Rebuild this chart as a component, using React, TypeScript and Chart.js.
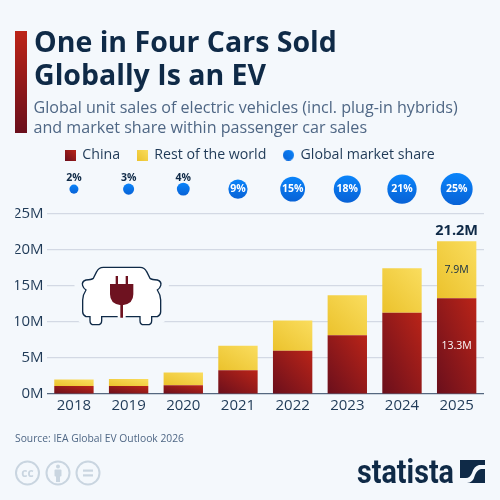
import React, { useEffect, useRef } from "react";
import { Chart, registerables } from "chart.js";

Chart.register(...registerables);

const years = ["2018", "2019", "2020", "2021", "2022", "2023", "2024", "2025"];
const china = [1.1, 1.1, 1.2, 3.3, 6.0, 8.15, 11.3, 13.3];
const restOfWorld = [0.9, 1.0, 1.8, 3.4, 4.2, 5.55, 6.15, 7.9];
const marketShare = [2, 3, 4, 9, 15, 18, 21, 25];
const yTicks = [0, 5, 10, 15, 20, 25];

const BG = "#F4F8FC";
const NAVY = "#0F2A47";
const FONT = '"Open Sans"';
const BUBBLE_ROW = 28.45;
const BAR_W = 39.4;

function diagGradient(c: CanvasRenderingContext2D, l: number, t: number, r: number, b: number, from: string, to: string) {
  const w = Math.max(r - l, 1), h = Math.max(b - t, 1);
  const gx = 1 / (2 * w), gy = -1 / (2 * h);
  const n = gx * gx + gy * gy;
  const g = c.createLinearGradient(l, b, l + gx / n, b + gy / n);
  g.addColorStop(0, from);
  g.addColorStop(1, to);
  return g;
}

function barFill(from: string, to: string, lower: number[], vals: number[]) {
  return (ctx: any) => {
    const ch = ctx.chart;
    if (!ch.chartArea || ctx.dataIndex === undefined) return to;
    const x = ch.scales.x.getPixelForTick(ctx.dataIndex);
    const b = ch.scales.y.getPixelForValue(lower[ctx.dataIndex]);
    const t = ch.scales.y.getPixelForValue(lower[ctx.dataIndex] + vals[ctx.dataIndex]);
    return diagGradient(ch.ctx, x - BAR_W / 2, t, x + BAR_W / 2, b, from, to);
  };
}

function swatch(from: string, to: string, round: boolean) {
  const cv = document.createElement("canvas");
  cv.width = 11;
  cv.height = 11;
  const c = cv.getContext("2d") as CanvasRenderingContext2D;
  c.fillStyle = diagGradient(c, 0, 0, 11, 11, from, to);
  if (round) {
    c.beginPath();
    c.arc(5.5, 5.5, 5.5, 0, Math.PI * 2);
    c.fill();
  } else {
    c.fillRect(0, 0, 11, 11);
  }
  return cv;
}

const labelsPlugin = {
  id: "marks",
  afterDatasetsDraw(chart: any) {
    const c = chart.ctx as CanvasRenderingContext2D;
    const bubbles = chart.getDatasetMeta(2).data;
    c.save();
    c.textAlign = "center";
    c.textBaseline = "middle";
    marketShare.forEach((s, i) => {
      const p = bubbles[i];
      const inside = s >= 9;
      c.font = `700 10.5px ${FONT}`;
      c.fillStyle = inside ? "#FFFFFF" : NAVY;
      c.fillText(`${s}%`, p.x, inside ? p.y : p.y - 11.5);
    });
    const last = years.length - 1;
    const xp = chart.scales.x.getPixelForTick(last);
    const y = chart.scales.y;
    c.font = `400 10.5px ${FONT}`;
    c.fillStyle = "#FFFFFF";
    c.fillText(`${china[last]}M`, xp, y.getPixelForValue(china[last] / 2));
    c.fillStyle = NAVY;
    c.fillText(`${restOfWorld[last]}M`, xp, y.getPixelForValue(china[last] + restOfWorld[last] / 2));
    c.font = `700 14.5px ${FONT}`;
    c.fillText("21.2M", xp, y.getPixelForValue(china[last] + restOfWorld[last]) - 10);
    c.restore();
  },
};

const CAR =
  "M143 185 H95 V197 Q95 209 82 209 H72 Q60 209 60 197 V185 H48 Q38 180 38 170 V135 Q38 120 48 105 Q40 100 38 92 Q34 80 48 75 Q64 74 70 70 L80 50 Q86 37 100 37 H210 Q224 37 230 50 L240 70 Q246 74 262 75 Q276 80 272 92 Q270 100 262 105 Q272 120 272 135 V170 Q272 180 262 185 H245 V197 Q245 209 232 209 H222 Q210 209 210 197 V185 H167";

function CarIcon() {
  return (
    <svg width="100" height="80" viewBox="0 0 300 240" style={{ position: "absolute", left: 70, top: 255 }}>
      <path d={CAR + " Z"} fill={BG} stroke={BG} strokeWidth="48" strokeLinejoin="round" />
      <path d={CAR} fill="#FFFFFF" stroke={NAVY} strokeWidth="4" />
      <path
        d="M120 87 H190 V118 Q190 146 160 150 H159 V188 H151 V150 H150 Q120 146 120 118 Z"
        fill="#6E1220"
      />
      <rect x="137" y="63" width="7" height="25" fill="#6E1220" />
      <rect x="167" y="63" width="7" height="25" fill="#6E1220" />
    </svg>
  );
}

function Logo() {
  return (
    <>
      <div style={{ position: "absolute", left: 357, top: 454.5, fontFamily: "Roboto", fontWeight: 700, fontSize: 33, lineHeight: "33px", color: NAVY, transform: "scaleX(0.87)", transformOrigin: "left top", whiteSpace: "nowrap" }}>
        statista
      </div>
      <svg width="26" height="24" viewBox="0 0 26 24" style={{ position: "absolute", left: 460, top: 460 }}>
        <rect x="0" y="0" width="25" height="23" fill={NAVY} />
        <path d="M0 23 V18 H6 Q10 18 12 13 Q14 6 19 5 H25 V9 H21 Q17 10 15 15 Q13 23 7 23 Z" fill={BG} />
      </svg>
      <svg width="92" height="28" viewBox="0 0 92 28" style={{ position: "absolute", left: 14, top: 459 }}>
        <g fill="none" stroke="#C9D5E0" strokeWidth="2">
          <circle cx="13.5" cy="14" r="11.5" />
          <circle cx="44" cy="14" r="11.5" />
          <circle cx="74" cy="14" r="11.5" />
        </g>
        <text x="13.5" y="18" textAnchor="middle" fontFamily="Open Sans" fontWeight="700" fontSize="12" fill="#C9D5E0">cc</text>
        <circle cx="44" cy="7.5" r="2" fill="#C9D5E0" />
        <rect x="40.5" y="10.5" width="7" height="7" rx="1" fill="#C9D5E0" />
        <rect x="42" y="16" width="4" height="7" fill="#C9D5E0" />
        <rect x="69" y="10.5" width="10" height="2.2" fill="#C9D5E0" />
        <rect x="69" y="15.3" width="10" height="2.2" fill="#C9D5E0" />
      </svg>
    </>
  );
}

export default function App() {
  const ref = useRef<HTMLCanvasElement>(null);
  useEffect(() => {
    document.body.style.margin = "0";
    document.body.style.background = BG;
    const zeros = china.map(() => 0);
    const chart = new Chart(ref.current as HTMLCanvasElement, {
      data: {
        labels: years,
        datasets: [
          {
            type: "bar",
            label: "China",
            data: china,
            stack: "s",
            barPercentage: 1,
            categoryPercentage: 0.72,
            backgroundColor: barFill("#6A0F1C", "#BA2418", zeros, china),
            order: 2,
          },
          {
            type: "bar",
            label: "Rest of the world",
            data: restOfWorld,
            stack: "s",
            barPercentage: 1,
            categoryPercentage: 0.72,
            backgroundColor: barFill("#EBC22C", "#FADD5E", china, restOfWorld),
            order: 2,
          },
          {
            type: "bubble",
            label: "Global market share",
            data: marketShare.map((s, i) => ({ x: years[i], y: BUBBLE_ROW, r: 3.2 * Math.sqrt(s) })),
            clip: false,
            borderWidth: 0,
            hoverBorderWidth: 0,
            backgroundColor: (ctx: any) => {
              const ch = ctx.chart;
              if (!ch.chartArea || ctx.dataIndex === undefined) return "#0A78F0";
              const yp = ch.scales.y.getPixelForValue(BUBBLE_ROW);
              const r = 3.2 * Math.sqrt(marketShare[ctx.dataIndex]);
              const g = ch.ctx.createLinearGradient(0, yp - r, 0, yp + r);
              g.addColorStop(0, "#0A84FA");
              g.addColorStop(1, "#0862D6");
              return g;
            },
            order: 1,
          },
        ],
      } as any,
      options: {
        animation: false,
        responsive: false,
        devicePixelRatio: 1,
        layout: { padding: { top: 131, right: 15.3, bottom: 0, left: 15.3 } },
        plugins: {
          tooltip: { enabled: false },
          title: { display: false },
          legend: {
            display: true,
            position: "top",
            align: "center",
            labels: {
              usePointStyle: true,
              boxWidth: 10,
              boxHeight: 10,
              padding: 17,
              color: "#1F3A57",
              font: { family: FONT, size: 14.2 },
              generateLabels: () => [
                { text: "China", fillStyle: "#8A1A1C", strokeStyle: "#8A1A1C", lineWidth: 0, pointStyle: swatch("#6A0F1C", "#BA2418", false), fontColor: "#1F3A57", datasetIndex: 0 },
                { text: "Rest of the world", fillStyle: "#F5D23F", strokeStyle: "#F5D23F", lineWidth: 0, pointStyle: swatch("#EBC22C", "#FADD5E", false), fontColor: "#1F3A57", datasetIndex: 1 },
                { text: "Global market share", fillStyle: "#0A78F0", strokeStyle: "#0A78F0", lineWidth: 0, pointStyle: swatch("#0862D6", "#0A84FA", true), fontColor: "#1F3A57", datasetIndex: 2 },
              ],
            },
          },
        },
        scales: {
          x: {
            type: "category",
            stacked: true,
            offset: true,
            grid: { display: false, drawTicks: false },
            border: { display: false },
            ticks: { color: "#1F3A57", font: { family: FONT, size: 15 }, padding: 3, maxRotation: 0, autoSkip: false },
            afterFit: (s: any) => { s.height = 106; },
          },
          y: {
            type: "linear",
            stacked: true,
            min: 0,
            max: 30.8,
            afterBuildTicks: (s: any) => { s.ticks = yTicks.map((v) => ({ value: v })); },
            grid: {
              drawTicks: false,
              lineWidth: 1.2,
              color: (ctx: any) => (ctx.tick.value === 0 ? "#55677F" : "#D3D9E4"),
            },
            border: { display: false },
            ticks: {
              color: "#1F3A57",
              font: { family: FONT, size: 15 },
              padding: 3,
              callback: (v: any) => `${v}M`,
            },
            afterFit: (s: any) => { s.width = 31.3; },
          },
        },
      } as any,
      plugins: [labelsPlugin],
    });
    return () => chart.destroy();
  }, []);

  return (
    <div style={{ position: "absolute", left: 0, top: 0, width: 500, height: 500, background: BG, overflow: "hidden" }}>
      <canvas ref={ref} width={500} height={500} style={{ position: "absolute", left: 0, top: 0, width: 500, height: 500 }} />
      <CarIcon />
      <div style={{ position: "absolute", left: 15, top: 30.5, width: 11.5, height: 102, background: "linear-gradient(#BC2418,#6A0F1C)" }} />
      <div style={{ position: "absolute", left: 34, top: 25, fontFamily: FONT, fontWeight: 700, fontSize: 28.5, lineHeight: "32.5px", color: NAVY, whiteSpace: "nowrap" }}>
        One in Four Cars Sold<br />Globally Is an EV
      </div>
      <div style={{ position: "absolute", left: 33.5, top: 96.5, fontFamily: FONT, fontWeight: 400, fontSize: 16.1, lineHeight: "20px", color: "#4F6785", whiteSpace: "nowrap" }}>
        Global unit sales of electric vehicles (incl. plug-in hybrids)<br />and market share within passenger car sales
      </div>
      <div style={{ position: "absolute", left: 15, top: 431, fontFamily: FONT, fontSize: 10.3, lineHeight: "14px", color: "#4F6785", whiteSpace: "nowrap" }}>
        Source: IEA Global EV Outlook 2026
      </div>
      <Logo />
    </div>
  );
}
